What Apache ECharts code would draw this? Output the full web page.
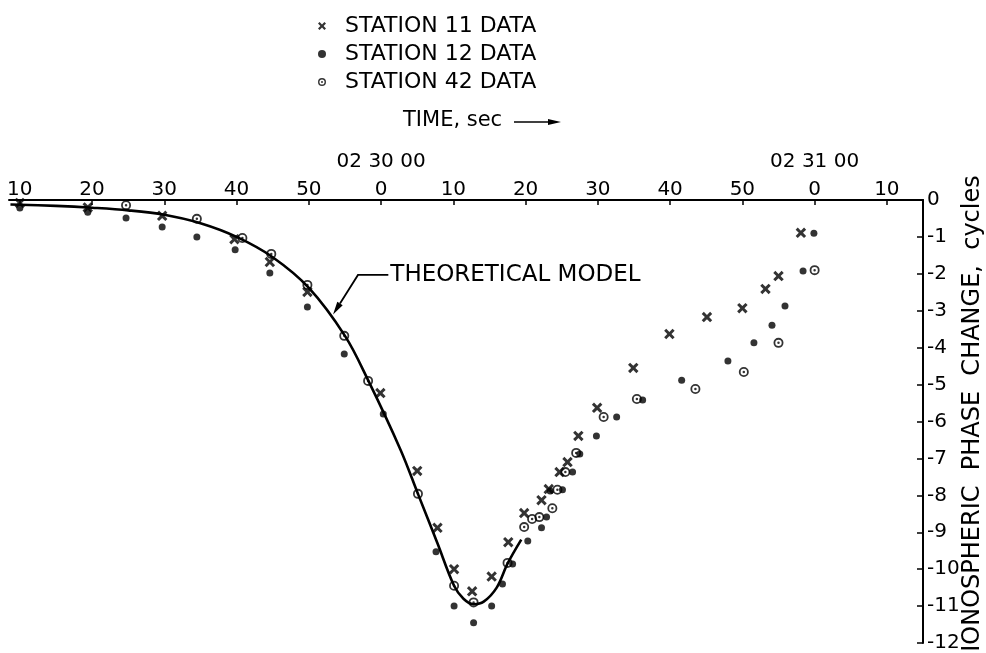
<!DOCTYPE html>
<html><head><meta charset="utf-8">
<script src="https://cdn.jsdelivr.net/npm/echarts@6/dist/echarts.min.js"></script>
<style>html,body{margin:0;padding:0;background:#fff}#c{width:986px;height:653px}</style>
</head><body><div id="c"></div>
<script>
// ---- data ----
const xTickValues = [10,20,30,40,50,60,70,80,90,100,110,120,130];
const minuteMarkValues = [60,120];
const minuteMarkLabels = ['02 30 00','02 31 00'];
const seriesNames = ['STATION 11 DATA','STATION 12 DATA','STATION 42 DATA'];
const station11 = [[10,-0.08],[19.4,-0.2],[29.7,-0.43],[39.7,-1.06],[44.6,-1.68],[49.8,-2.49],[59.9,-5.23],[65.0,-7.34],[67.8,-8.88],[70.1,-10.0],[72.6,-10.6],[75.3,-10.2],[77.6,-9.27],[79.8,-8.48],[82.2,-8.13],[83.2,-7.83],[84.7,-7.37],[85.8,-7.1],[87.3,-6.39],[89.9,-5.63],[94.9,-4.55],[99.9,-3.63],[105.1,-3.17],[110.0,-2.93],[113.2,-2.41],[115.0,-2.06],[118.1,-0.89]];
const station12 = [[10,-0.22],[19.4,-0.33],[24.7,-0.49],[29.7,-0.73],[34.5,-1.0],[39.8,-1.35],[44.6,-1.98],[49.8,-2.9],[54.9,-4.17],[60.3,-5.8],[67.6,-9.53],[70.1,-11.0],[72.8,-11.45],[75.3,-11.0],[76.8,-10.4],[78.2,-9.86],[80.3,-9.24],[82.2,-8.88],[82.9,-8.59],[83.4,-7.88],[85.1,-7.85],[86.5,-7.37],[87.5,-6.88],[89.8,-6.39],[92.6,-5.88],[96.2,-5.42],[101.6,-4.88],[108.0,-4.36],[111.6,-3.87],[114.1,-3.39],[115.9,-2.87],[118.4,-1.92],[119.9,-0.9]];
const station42 = [[24.7,-0.14],[34.5,-0.51],[40.8,-1.03],[44.8,-1.46],[49.8,-2.3],[54.9,-3.68],[58.2,-4.9],[65.1,-7.96],[70.1,-10.45],[72.8,-10.9],[77.5,-9.83],[79.8,-8.86],[80.9,-8.64],[81.9,-8.59],[83.7,-8.35],[84.4,-7.85],[85.5,-7.37],[87.0,-6.85],[90.8,-5.88],[95.4,-5.39],[103.5,-5.12],[110.2,-4.66],[115.0,-3.87],[120.0,-1.9]];
const theoreticalModel = [[8.7,-0.12],[15,-0.16],[20,-0.21],[25,-0.28],[30,-0.4],[35,-0.63],[40,-1.0],[45,-1.55],[50,-2.38],[55,-3.68],[58.2,-4.88],[62.7,-6.77],[65.1,-7.96],[67.8,-9.3],[70.1,-10.45],[71.4,-10.8],[72.8,-10.95],[74.2,-10.88],[76,-10.5],[77.5,-9.85],[79.4,-9.2]];
const modelLabelText = 'THEORETICAL MODEL';
const modelLabelTip = [53.35,-3.1];
const modelLabelElbow = [56.8,-2.03];
const modelLabelStart = [61.0,-2.03];

// ---- styles ----
const FONT = 'DejaVu Sans';
const INK = '#000';
const xPath = 'path://M0,2 L2,0 L5,3 L8,0 L10,2 L7,5 L10,8 L8,10 L5,7 L2,10 L0,8 L3,5 Z';
const ringPath = 'path://M5,0 A5,5 0 1,1 5,10 A5,5 0 1,1 5,0 Z M5,1.8 A3.2,3.2 0 1,0 5,8.2 A3.2,3.2 0 1,0 5,1.8 Z M5,3.75 A1.25,1.25 0 1,1 5,6.25 A1.25,1.25 0 1,1 5,3.75 Z';

const chart = echarts.init(document.getElementById('c'), null, {renderer:'canvas'});
const xCommon = {type:'value', min:8.5, max:135, position:'top', splitLine:{show:false}};
const option = {
  animation:false,
  backgroundColor:'#fff',
  textStyle:{fontFamily:FONT, color:INK},
  grid:{left:9, right:63, top:200, bottom:10, containLabel:false, outerBoundsMode:'none'},
  legend:{
    orient:'vertical', left:313, top:10, itemWidth:36, itemHeight:8, itemGap:6,
    textStyle:{fontFamily:FONT, fontSize:22, color:INK, lineHeight:21},
    data:[
      {name:seriesNames[0], icon:xPath},
      {name:seriesNames[1], icon:'circle'},
      {name:seriesNames[2], icon:ringPath}
    ],
    selectedMode:false
  },
  xAxis:[
    Object.assign({}, xCommon, {
      axisLine:{show:true, lineStyle:{color:INK, width:2}},
      axisTick:{show:true, inside:true, length:5, customValues:xTickValues, lineStyle:{color:INK, width:1.5}},
      axisLabel:{show:true, customValues:xTickValues, margin:0, fontSize:20, color:INK, fontFamily:FONT,
        formatter:v => String(Math.round(v) % 60)}
    }),
    Object.assign({}, xCommon, {
      offset:28,
      axisLine:{show:false}, axisTick:{show:false},
      axisLabel:{show:true, customValues:minuteMarkValues, margin:0, fontSize:20, color:INK, fontFamily:FONT,
        formatter:v => minuteMarkLabels[minuteMarkValues.indexOf(Math.round(v))] || ''}
    })
  ],
  yAxis:{
    type:'value', min:-12, max:0, interval:1, position:'right',
    splitLine:{show:false},
    axisLine:{show:true, lineStyle:{color:INK, width:2}},
    axisTick:{show:true, inside:true, length:6, lineStyle:{color:INK, width:1.5}},
    axisLabel:{margin:4, fontSize:20, color:INK, fontFamily:FONT},
    name:'IONOSPHERIC  PHASE  CHANGE,  cycles', nameLocation:'middle', nameRotate:90, nameGap:38,
    nameMoveOverlap:false,
    nameTextStyle:{fontSize:24, color:INK, fontFamily:FONT, padding:[0,0,0,16]}
  },
  series:[
    {type:'line', name:modelLabelText, data:theoreticalModel, smooth:0.35, showSymbol:false, symbol:'none',
      lineStyle:{color:INK, width:2.6}, z:2, silent:true},
    {type:'scatter', name:seriesNames[0], data:station11, symbol:xPath, symbolSize:10.5, itemStyle:{color:INK}, z:3},
    {type:'scatter', name:seriesNames[1], data:station12, symbol:'circle', symbolSize:7, itemStyle:{color:INK}, z:3},
    {type:'scatter', name:seriesNames[2], data:station42, symbol:ringPath, symbolSize:10, itemStyle:{color:INK}, z:4}
  ]
};
chart.setOption(option);

const P = p => chart.convertToPixel({gridIndex:0}, p);
const tip = P(modelLabelTip), elbow = P(modelLabelElbow), tstart = P(modelLabelStart);
const dx = tip[0]-elbow[0], dy = tip[1]-elbow[1], L = Math.hypot(dx,dy), ux = dx/L, uy = dy/L;
const hl = 13, hw = 3.2;
const base = [tip[0]-ux*hl, tip[1]-uy*hl];
const head = [tip, [base[0]-uy*hw, base[1]+ux*hw], [base[0]+uy*hw, base[1]-ux*hw]];

chart.setOption({graphic:[
  {type:'polyline', shape:{points:[tstart, elbow, base]}, style:{stroke:INK, lineWidth:1.8, fill:null}, z:10},
  {type:'polygon', shape:{points:head}, style:{fill:INK}, z:10},
  {type:'text', x:tstart[0]+2, y:tstart[1], style:{text:modelLabelText, font:'23px "DejaVu Sans"', fill:INK, verticalAlign:'middle', align:'left'}, z:10},
  {type:'text', x:403, y:121, style:{text:'TIME, sec', font:'21px "DejaVu Sans"', fill:INK, verticalAlign:'middle', align:'left'}, z:10},
  {type:'line', shape:{x1:514, y1:122, x2:550, y2:122}, style:{stroke:INK, lineWidth:1.6}, z:10},
  {type:'polygon', shape:{points:[[561,122],[548,119],[548,125]]}, style:{fill:INK}, z:10}
]});
</script></body></html>
